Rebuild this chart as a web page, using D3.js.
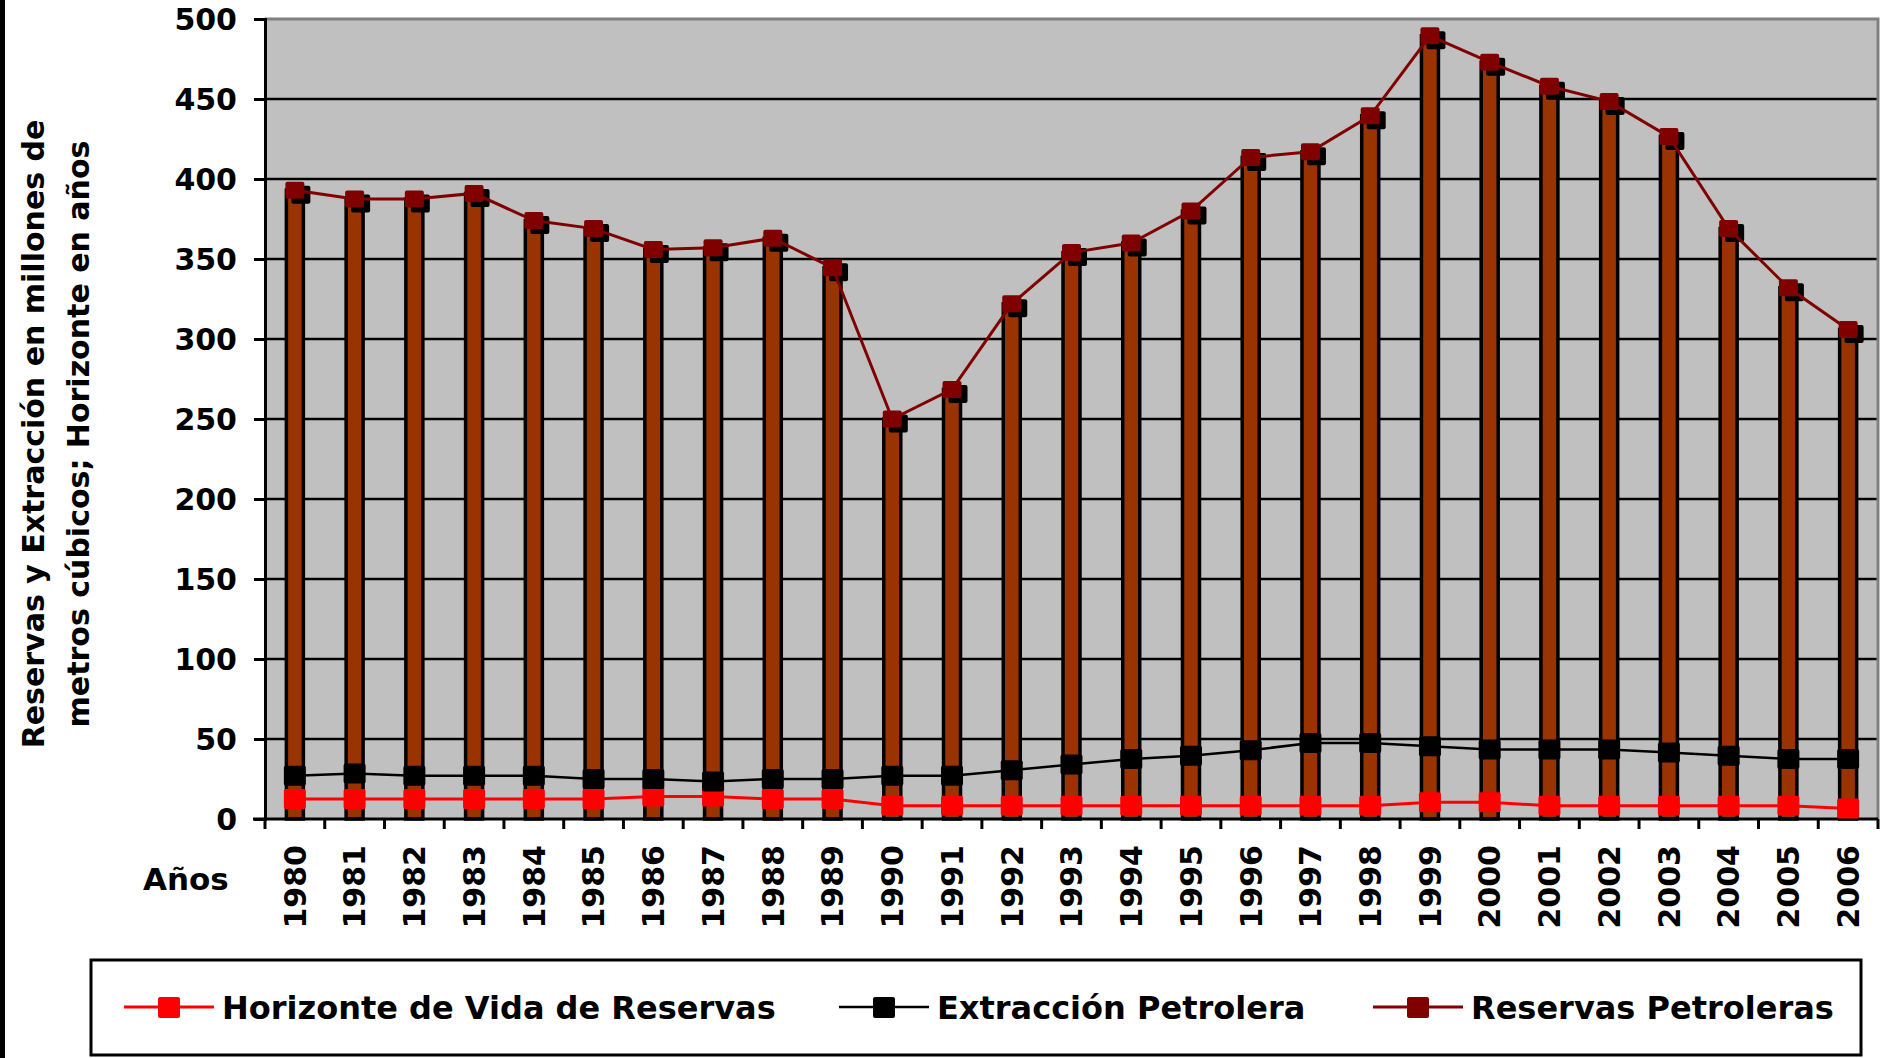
<!DOCTYPE html>
<html>
<head>
<meta charset="utf-8">
<script src="https://cdn.jsdelivr.net/npm/d3@7"></script>
<style>
  html, body { margin: 0; padding: 0; background: #fff; }
  svg { display: block; font-family: "DejaVu Sans", Verdana, sans-serif; font-weight: bold; }
</style>
</head>
<body>
<div id="chart"></div>
<script>
const width = 1884;
const height = 1058;

// chart values
const years = ["1980", "1981", "1982", "1983", "1984", "1985", "1986", "1987", "1988", "1989",
  "1990", "1991", "1992", "1993", "1994", "1995", "1996", "1997", "1998", "1999",
  "2000", "2001", "2002", "2003", "2004", "2005", "2006"];

const reservas = [393, 387.5, 387.5, 391, 374, 369, 356, 357, 363, 344.5,
  250, 268.5, 322, 354, 360, 380, 413.5, 417, 439.5, 489.5,
  473, 458, 448.5, 426.5, 369, 332, 306];

const extraccion = [27, 28.5, 27, 27, 27, 25, 25, 23.5, 25, 25,
  27, 27, 30.5, 34, 37.5, 39.5, 43, 47.5, 47.5, 45.5,
  43.5, 43.5, 43.5, 41.5, 39.5, 37.5, 37.5];

const horizonte = [12.5, 12.5, 12.5, 12.5, 12.5, 12.5, 14, 14, 12.5, 12.5,
  8.3, 8.3, 8.3, 8.3, 8.3, 8.3, 8.3, 8.3, 8.3, 10.4,
  10.4, 8.3, 8.3, 8.3, 8.3, 8.3, 6.6];

const yTicks = [0, 50, 100, 150, 200, 250, 300, 350, 400, 450, 500];

const legendItems = ["Horizonte de Vida de Reservas", "Extracción Petrolera", "Reservas Petroleras"];

const plot = { left: 265, right: 1878, top: 19, bottom: 819 };

const svg = d3.select("#chart")
  .append("svg")
  .attr("width", width)
  .attr("height", height)
  .attr("viewBox", [0, 0, width, height]);

const x = d3.scaleBand()
  .domain(years)
  .range([plot.left, plot.right])
  .padding(0);

const y = d3.scaleLinear()
  .domain([0, 500])
  .range([plot.bottom, plot.top]);

const cx = d => x(d) + x.bandwidth() / 2;

// black strip on the left edge
svg.append("rect")
  .attr("x", 0).attr("y", 0)
  .attr("width", 5).attr("height", height)
  .attr("fill", "#000");

// plot background
svg.append("rect")
  .attr("x", plot.left).attr("y", plot.top)
  .attr("width", plot.right - plot.left)
  .attr("height", plot.bottom - plot.top)
  .attr("fill", "#c0c0c0");

// gridlines
svg.append("g")
  .selectAll("line")
  .data(yTicks.filter(d => d > 0 && d < 500))
  .join("line")
  .attr("x1", plot.left).attr("x2", plot.right)
  .attr("y1", d => y(d)).attr("y2", d => y(d))
  .attr("stroke", "#000")
  .attr("stroke-width", 2.5);

// gray top and right frame
svg.append("path")
  .attr("d", `M${plot.left},${plot.top}H${plot.right}V${plot.bottom}`)
  .attr("fill", "none")
  .attr("stroke", "#808080")
  .attr("stroke-width", 3);

// bars for reserves
svg.append("g")
  .selectAll("rect")
  .data(years)
  .join("rect")
  .attr("x", d => cx(d) - 8.5)
  .attr("width", 17)
  .attr("y", (d, i) => y(reservas[i]))
  .attr("height", (d, i) => y(0) - y(reservas[i]))
  .attr("fill", "#993300")
  .attr("stroke", "#000")
  .attr("stroke-width", 3.5);

// y axis
const yAxis = svg.append("g")
  .attr("transform", `translate(${plot.left},0)`)
  .call(d3.axisLeft(y).tickValues(yTicks).tickSize(11).tickPadding(17));
yAxis.select(".domain").attr("stroke", "#000").attr("stroke-width", 3);
yAxis.selectAll(".tick line").attr("stroke", "#000").attr("stroke-width", 3);
yAxis.selectAll(".tick text")
  .attr("font-family", "DejaVu Sans, sans-serif")
  .attr("font-weight", "bold")
  .attr("font-size", 30)
  .attr("fill", "#000")
  .attr("dy", "0.36em");

// x axis: ticks between categories
const xAxis = svg.append("g")
  .attr("transform", `translate(0,${plot.bottom})`);
xAxis.append("line")
  .attr("x1", plot.left - 12).attr("x2", plot.right)
  .attr("stroke", "#000").attr("stroke-width", 3);
xAxis.selectAll(".xtick")
  .data(years.concat(["end"]))
  .join("line")
  .attr("class", "xtick")
  .attr("x1", (d, i) => plot.left + i * x.bandwidth())
  .attr("x2", (d, i) => plot.left + i * x.bandwidth())
  .attr("y1", 0).attr("y2", 10)
  .attr("stroke", "#000").attr("stroke-width", 3);
xAxis.selectAll(".ylabel")
  .data(years)
  .join("text")
  .attr("class", "ylabel")
  .attr("transform", d => `translate(${cx(d)},26) rotate(-90)`)
  .attr("text-anchor", "end")
  .attr("dy", "0.36em")
  .attr("font-size", 30)
  .attr("fill", "#000")
  .text(d => d);

svg.append("text")
  .attr("x", 143).attr("y", 890)
  .attr("font-size", 31)
  .text("Años");

// y axis title
const yTitle = ["Reservas y Extracción en millones de", "metros cúbicos; Horizonte en años"];
svg.append("g")
  .selectAll("text")
  .data(yTitle)
  .join("text")
  .attr("transform", (d, i) => `translate(${i === 0 ? 33 : 78},434) rotate(-90)`)
  .attr("text-anchor", "middle")
  .attr("dy", "0.36em")
  .attr("font-size", 30)
  .text(d => d);

// series lines and markers
const series = [
  { values: horizonte, color: "#ff0000", width: 3, size: 22, shadow: false },
  { values: extraccion, color: "#000000", width: 2.5, size: 22, shadow: false },
  { values: reservas, color: "#800000", width: 3, size: 19, shadow: true }
];

const line = d3.line()
  .x(d => cx(d.year))
  .y(d => y(d.value));

series.forEach(s => {
  const pts = years.map((yr, i) => ({ year: yr, value: s.values[i] }));
  const g = svg.append("g");

  if (s.shadow) {
    g.selectAll(".shadow")
      .data(pts)
      .join("rect")
      .attr("class", "shadow")
      .attr("x", d => cx(d.year) - s.size / 2 + 6)
      .attr("y", d => y(d.value) - s.size / 2 + 5)
      .attr("width", s.size).attr("height", s.size - 1)
      .attr("rx", 2)
      .attr("fill", "#000");
  }

  g.append("path")
    .datum(pts)
    .attr("d", line)
    .attr("fill", "none")
    .attr("stroke", s.color)
    .attr("stroke-width", s.width);

  g.selectAll(".marker")
    .data(pts)
    .join("rect")
    .attr("class", "marker")
    .attr("x", d => cx(d.year) - s.size / 2)
    .attr("y", d => y(d.value) - (s.size - 2) / 2)
    .attr("width", s.size).attr("height", s.size - 2)
    .attr("rx", 2)
    .attr("fill", s.color);
});

// legend
const legend = svg.append("g");
legend.append("rect")
  .attr("x", 91).attr("y", 960)
  .attr("width", 1770).attr("height", 95)
  .attr("fill", "#fff")
  .attr("stroke", "#000")
  .attr("stroke-width", 3);

const legendX = [124, 839, 1373];
const legendY = 1007;

legendItems.forEach((label, i) => {
  const s = series[i];
  const lx = legendX[i];
  legend.append("line")
    .attr("x1", lx).attr("x2", lx + 90)
    .attr("y1", legendY).attr("y2", legendY)
    .attr("stroke", s.color)
    .attr("stroke-width", s.width);
  legend.append("rect")
    .attr("x", lx + 45 - 11).attr("y", legendY - 10)
    .attr("width", 22).attr("height", 21)
    .attr("rx", 2)
    .attr("fill", s.color);
  legend.append("text")
    .attr("x", lx + 98).attr("y", legendY + 12)
    .attr("font-size", 32)
    .attr("fill", "#000")
    .text(label);
});
</script>
</body>
</html>
